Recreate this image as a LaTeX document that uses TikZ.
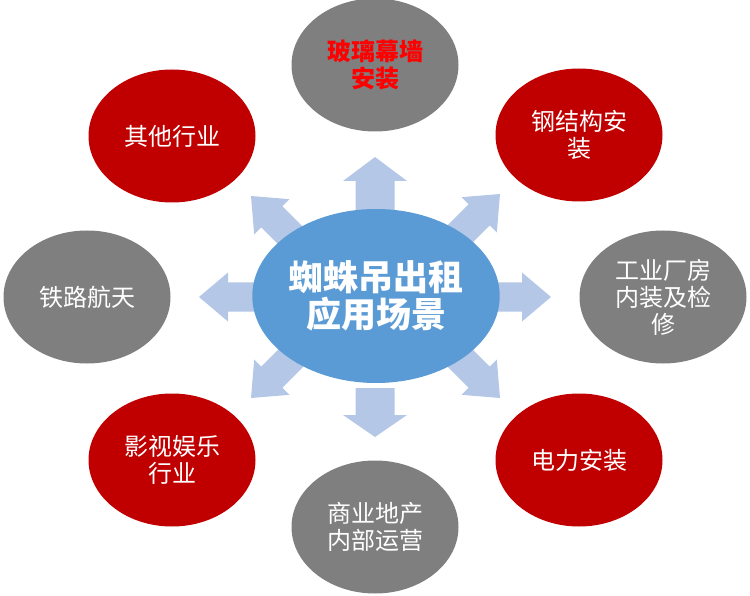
\documentclass[tikz,border=0pt]{standalone}
\usepackage{fontspec}
\setmainfont{Noto Sans CJK SC}
\usetikzlibrary{shapes.geometric}
\definecolor{cred}{HTML}{C00000}
\definecolor{cgray}{HTML}{7F7F7F}
\definecolor{cblue}{HTML}{5B9BD5}
\definecolor{carrow}{HTML}{B4C7E7}
\definecolor{ctxt}{HTML}{FF0000}
\newcommand\blockarrow[6]{%
  \fill[carrow, shift={#1}, rotate=#2] (0,0) -- (-#3,#4) -- (-#3,#5) -- ({-#3-#6},#5) -- ({-#3-#6},-#5) -- (-#3,-#5) -- (-#3,-#4) -- cycle;}
\begin{document}
\begin{tikzpicture}[x=1pt,y=-1pt,
  outer/.style={ellipse, minimum width=167pt, minimum height=133pt, inner sep=0pt,
    text=white, align=center, font=\fontsize{24}{27}\selectfont},
  redell/.style={outer, fill=cred},
  grayell/.style={outer, fill=cgray},
  hub/.style={ellipse, fill=cblue, minimum width=242pt, minimum height=174pt, inner sep=0pt,
    text=white, align=center, font=\fontsize{35}{37}\selectfont\bfseries}]
\useasboundingbox (0,0) rectangle (750,596);
% arrows
\blockarrow{(551,297)}{0}{29}{24.5}{14.5}{34}
\blockarrow{(199,297)}{180}{29}{24.5}{14.5}{34}
\blockarrow{(375,157)}{90}{24}{32}{19.5}{30}
\blockarrow{(375,437)}{270}{22}{32}{19.5}{27}
\blockarrow{(500,194)}{45}{29.5}{25}{15}{35}
\blockarrow{(251,196)}{135}{29.5}{25}{15}{35}
\blockarrow{(251,398)}{225}{29.5}{25}{15}{35}
\blockarrow{(500,398)}{315}{29.5}{25}{15}{35}
% hub
\node[hub] (hub) at (376,296) {蜘蛛吊出租\\应用场景};
% outer ellipses
\node[grayell, text=ctxt, font=\fontsize{24}{27}\selectfont\bfseries] (glass) at (375,65) {玻璃幕墙\\安装};
\node[redell] (steel) at (579,135) {钢结构安\\装};
\node[grayell] (factory) at (663,297) {工业厂房\\内装及检\\修};
\node[redell] (power) at (579,460) {电力安装};
\node[grayell] (estate) at (375,527) {商业地产\\内部运营};
\node[redell] (film) at (172,460) {影视娱乐\\行业};
\node[grayell] (rail) at (87,297) {铁路航天};
\node[redell] (other) at (172,136) {其他行业};
\end{tikzpicture}
\end{document}
